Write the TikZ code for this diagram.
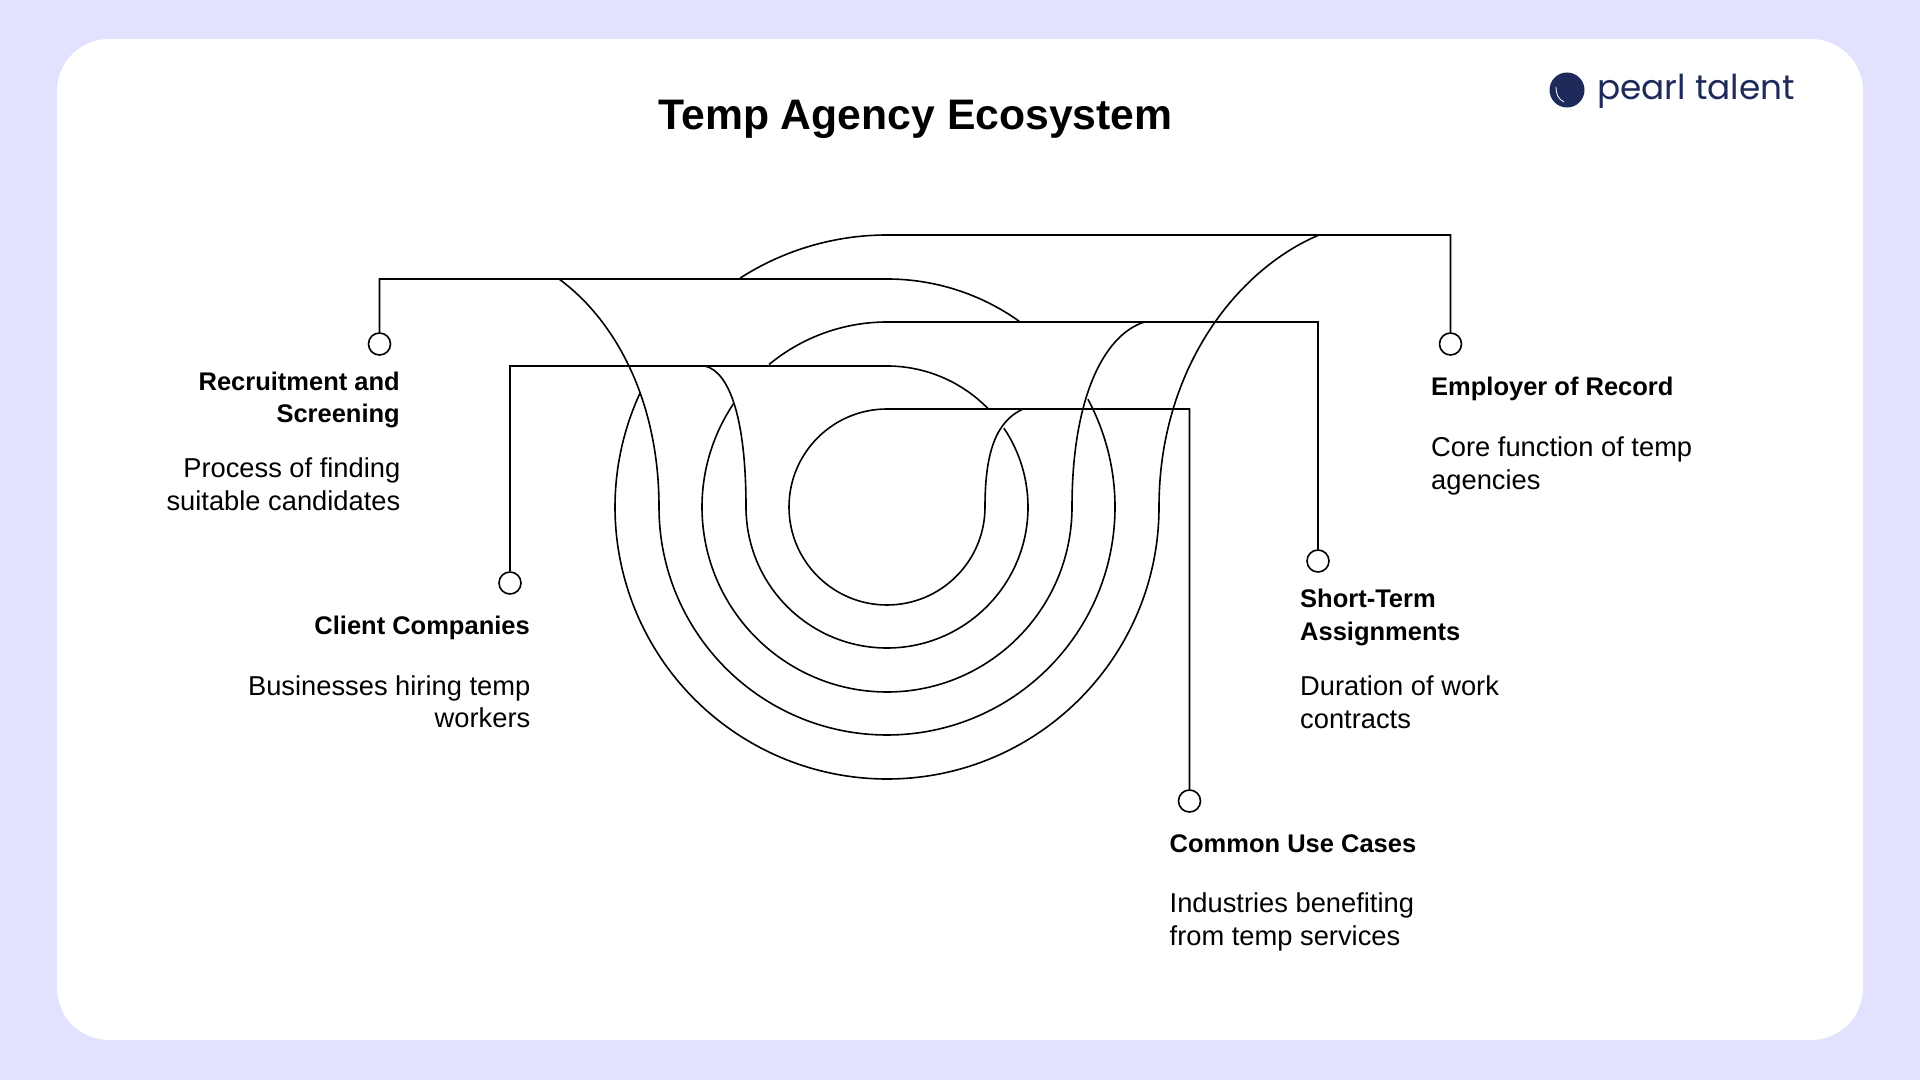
\documentclass[tikz,border=0pt]{standalone}
\usepackage{fontspec}
\setmainfont{Liberation Sans}
\newfontfamily\logofont{Poppins}
\definecolor{bgc}{HTML}{E2E2FF}
\definecolor{navy}{HTML}{1E2A5A}
\begin{document}
\begin{tikzpicture}[x=1pt,y=1pt,
  wire/.style={draw=black,line width=1.6pt,line join=miter},
  dot/.style={circle,draw=black,fill=white,line width=1.6pt,minimum size=22pt,inner sep=0pt},
  head/.style={font=\fontsize{25.5}{32.5}\selectfont\bfseries,inner sep=0pt},
  desc/.style={font=\fontsize{27.3}{32.5}\selectfont,inner sep=0pt}]
\useasboundingbox (0,0) rectangle (1920,1080);
\fill[bgc] (0,0) rectangle (1920,1080);
\fill[white,rounded corners=52pt] (57,40) rectangle (1863,1041);
\node[inner sep=0pt,font=\fontsize{42.7}{50}\selectfont\bfseries] (title) at (915.5,961) {Temp Agency Ecosystem};
% logo
\node[circle,fill=navy,minimum size=35pt,inner sep=0pt] (logo) at (1567,990) {};
\draw[white,line width=.8pt] (1556,993) .. controls (1556,986) and (1558,981) .. (1564,978);
\node[anchor=west,inner sep=0pt,text=navy,font=\logofont\fontsize{34.3}{40}\selectfont] (brand) at (1597,989) {pearl talent};
% dots
\node[dot] (rec) at (379.5,736) {};
\node[dot] (cli) at (510,497) {};
\node[dot] (com) at (1189.5,279) {};
\node[dot] (sho) at (1318,519) {};
\node[dot] (emp) at (1450.5,736) {};
\coordinate (mid) at (887,573);
% employer
\draw[wire] (emp.north) |- (887,845) arc[start angle=90,end angle=122.7,radius=272];
\draw[wire] (1319,845) .. controls (1236,810) and (1159,710) .. (1159,573) arc[start angle=0,end angle=-204.7,radius=272];
% recruitment
\draw[wire] (rec.north) |- (887,801) arc[start angle=90,end angle=54.6,radius=228];
\draw[wire] (559,801) .. controls (615,760) and (659,680) .. (659,573) arc[start angle=180,end angle=388.2,radius=228];
% short-term
\draw[wire] (sho.north) |- (887,758) arc[start angle=90,end angle=129.6,radius=185];
\draw[wire] (1144.5,758) .. controls (1103,745) and (1072,680) .. (1072,573) arc[start angle=0,end angle=-213.9,radius=185];
% client
\draw[wire] (cli.north) |- (887,714) arc[start angle=90,end angle=44.25,radius=141];
\draw[wire] (705,714) .. controls (730,708) and (746,660) .. (746,573) arc[start angle=180,end angle=394,radius=141];
% common
\draw[wire] (com.north) |- (887,671) arc[start angle=90,end angle=360,radius=98]
  .. controls (985,630) and (997,659) .. (1023,671);
% labels
\node[head,anchor=north east,align=right] (rech) at (400,708.5) {Recruitment and\\Screening};
\node[desc,anchor=north east,align=right] (recd) at (400.5,622) {Process of finding\\suitable candidates};
\node[head,anchor=north east,align=right] (clih) at (530,464) {Client Companies};
\node[desc,anchor=north east,align=right] (clid) at (530.5,404.5) {Businesses hiring temp\\workers};
\node[head,anchor=north west,align=left] (comh) at (1169.5,245.5) {Common Use Cases};
\node[desc,anchor=north west,align=left] (comd) at (1169.5,187) {Industries benefiting\\from temp services};
\node[head,anchor=north west,align=left] (shoh) at (1300,491) {Short-Term\\Assignments};
\node[desc,anchor=north west,align=left] (shod) at (1300,404) {Duration of work\\contracts};
\node[head,anchor=north west,align=left] (emph) at (1431,703.5) {Employer of Record};
\node[desc,anchor=north west,align=left] (empd) at (1431,643) {Core function of temp\\agencies};
\end{tikzpicture}
\end{document}
